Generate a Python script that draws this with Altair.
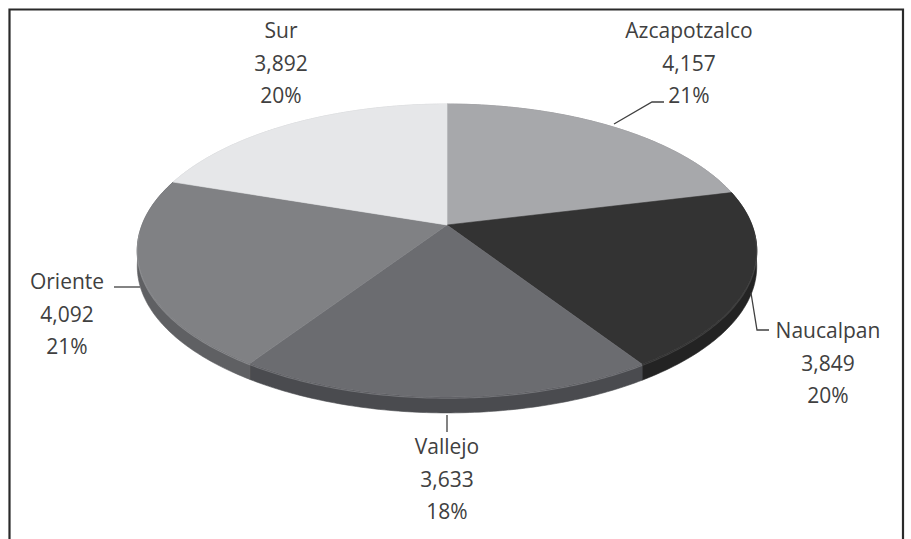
import math
import altair as alt

# ---------------- data ----------------
categories = ["Azcapotzalco", "Naucalpan", "Vallejo", "Oriente", "Sur"]
values = [4157, 3849, 3633, 4092, 3892]
value_labels = ["4,157", "3,849", "3,633", "4,092", "3,892"]
pct_labels = ["21%", "20%", "18%", "21%", "20%"]

# ---------------- styles / layout ----------------
top_colors = ["#a7a8ab", "#333333", "#6b6c70", "#808184", "#e6e7e9"]
side_colors = ["#86878a", "#232323", "#4a4b4f", "#5f6063", "#c4c5c7"]
rim_colors = ["#b5b6b9", "#474747", "#7c7d81", "#909194", "#eeeeef"]
TEXT_COLOR = "#404040"
FONT = "Open Sans"
FONT_SIZE = 21
LINE_GAP = 32.5

# pie geometry (perspective-projected disk)
CX, CY = 447, 225      # projected centre of the disk
A, B = 305, 142        # horizontal / vertical radii scale
K = 0.174              # perspective strength
DEPTH = 16             # thickness of the disk in pixels
N_ARC = 90

# label block anchors (centre x, y of first line) per category
label_pos = {
    "Azcapotzalco": (689, 32),
    "Naucalpan": (828, 332),
    "Vallejo": (447, 448),
    "Oriente": (67, 283),
    "Sur": (281, 32),
}
# leader lines
leaders = [
    [(664, 102), (652, 102), (614, 124)],
    [(751, 293), (757, 330), (769, 330)],
    [(114, 287), (140, 287)],
    [(447, 415), (447, 432)],
]
frame = [(9.5, 560), (9.5, 9.5), (903, 9.5), (903, 560)]


def proj(theta, dy=0.0):
    u, v = math.sin(theta), math.cos(theta)
    d = 1 + K * v
    return [CX + A * u / d, CY - B * v / d + dy]


total = float(sum(values))
sides, tops, rims = [], [], []
start = 0.0
for i, (cat, val) in enumerate(zip(categories, values)):
    end = start + val / total * 2 * math.pi
    angs = [start + (end - start) * j / N_ARC for j in range(N_ARC + 1)]
    arc = [proj(a) for a in angs]
    low = [proj(a, DEPTH) for a in reversed(angs)]
    side_ring = arc + low + [arc[0]]
    sides.append({"type": "Feature",
                  "geometry": {"type": "Polygon", "coordinates": [side_ring]},
                  "properties": {"name": cat, "fill": side_colors[i]}})
    top_ring = [[CX, CY]] + arc + [[CX, CY]]
    tops.append({"type": "Feature",
                 "geometry": {"type": "Polygon", "coordinates": [top_ring]},
                 "properties": {"name": cat, "fill": top_colors[i]}})
    front = [proj(a, 1.2) for a in angs if math.cos(a) < -0.05]
    if len(front) > 1:
        rims.append({"type": "Feature",
                     "geometry": {"type": "LineString", "coordinates": front},
                     "properties": {"c": rim_colors[i]}})
    start = end

line_feats = [{"type": "Feature",
               "geometry": {"type": "LineString", "coordinates": [list(p) for p in seg]},
               "properties": {}} for seg in leaders]
frame_feat = [{"type": "Feature",
               "geometry": {"type": "LineString", "coordinates": [list(p) for p in frame]},
               "properties": {}}]

text_rows = []
for i, cat in enumerate(categories):
    x0, y0 = label_pos[cat]
    for j, t in enumerate([cat, value_labels[i], pct_labels[i]]):
        text_rows.append({"x": x0, "y": y0 + j * LINE_GAP, "t": t})

projection = alt.Projection(type="identity", scale=1, translate=[0, 0])
pj = projection.to_dict()

side_layer = alt.Chart(alt.Data(values=sides)).mark_geoshape(strokeWidth=0.6).encode(
    fill=alt.Fill("properties.fill:N", scale=None),
    stroke=alt.Stroke("properties.fill:N", scale=None),
).project(**pj)

top_layer = alt.Chart(alt.Data(values=tops)).mark_geoshape(strokeWidth=0.6).encode(
    fill=alt.Fill("properties.fill:N", scale=None),
    stroke=alt.Stroke("properties.fill:N", scale=None),
).project(**pj)

rim_layer = alt.Chart(alt.Data(values=rims)).mark_geoshape(
    filled=False, strokeWidth=1.2, opacity=0.8
).encode(
    stroke=alt.Stroke("properties.c:N", scale=None),
).project(**pj)

lines_layer = alt.Chart(alt.Data(values=line_feats)).mark_geoshape(
    filled=False, strokeWidth=1.3, stroke="#404040"
).project(**pj)

frame_layer = alt.Chart(alt.Data(values=frame_feat)).mark_geoshape(
    filled=False, strokeWidth=2.2, stroke="#2a2a2a"
).project(**pj)

text_layer = alt.Chart(alt.Data(values=text_rows)).mark_text(
    font=FONT, fontSize=FONT_SIZE, color=TEXT_COLOR, align="center", baseline="middle"
).encode(
    longitude="x:Q", latitude="y:Q", text="t:N"
).project(**pj)

chart = alt.layer(side_layer, top_layer, rim_layer, lines_layer, frame_layer, text_layer).properties(
    width=911, height=539, autosize=alt.AutoSizeParams(type="none"), padding=0,
    background="white",
).configure_view(stroke=None)

chart.save("out.html", embed_options={"renderer": "svg", "actions": False})
